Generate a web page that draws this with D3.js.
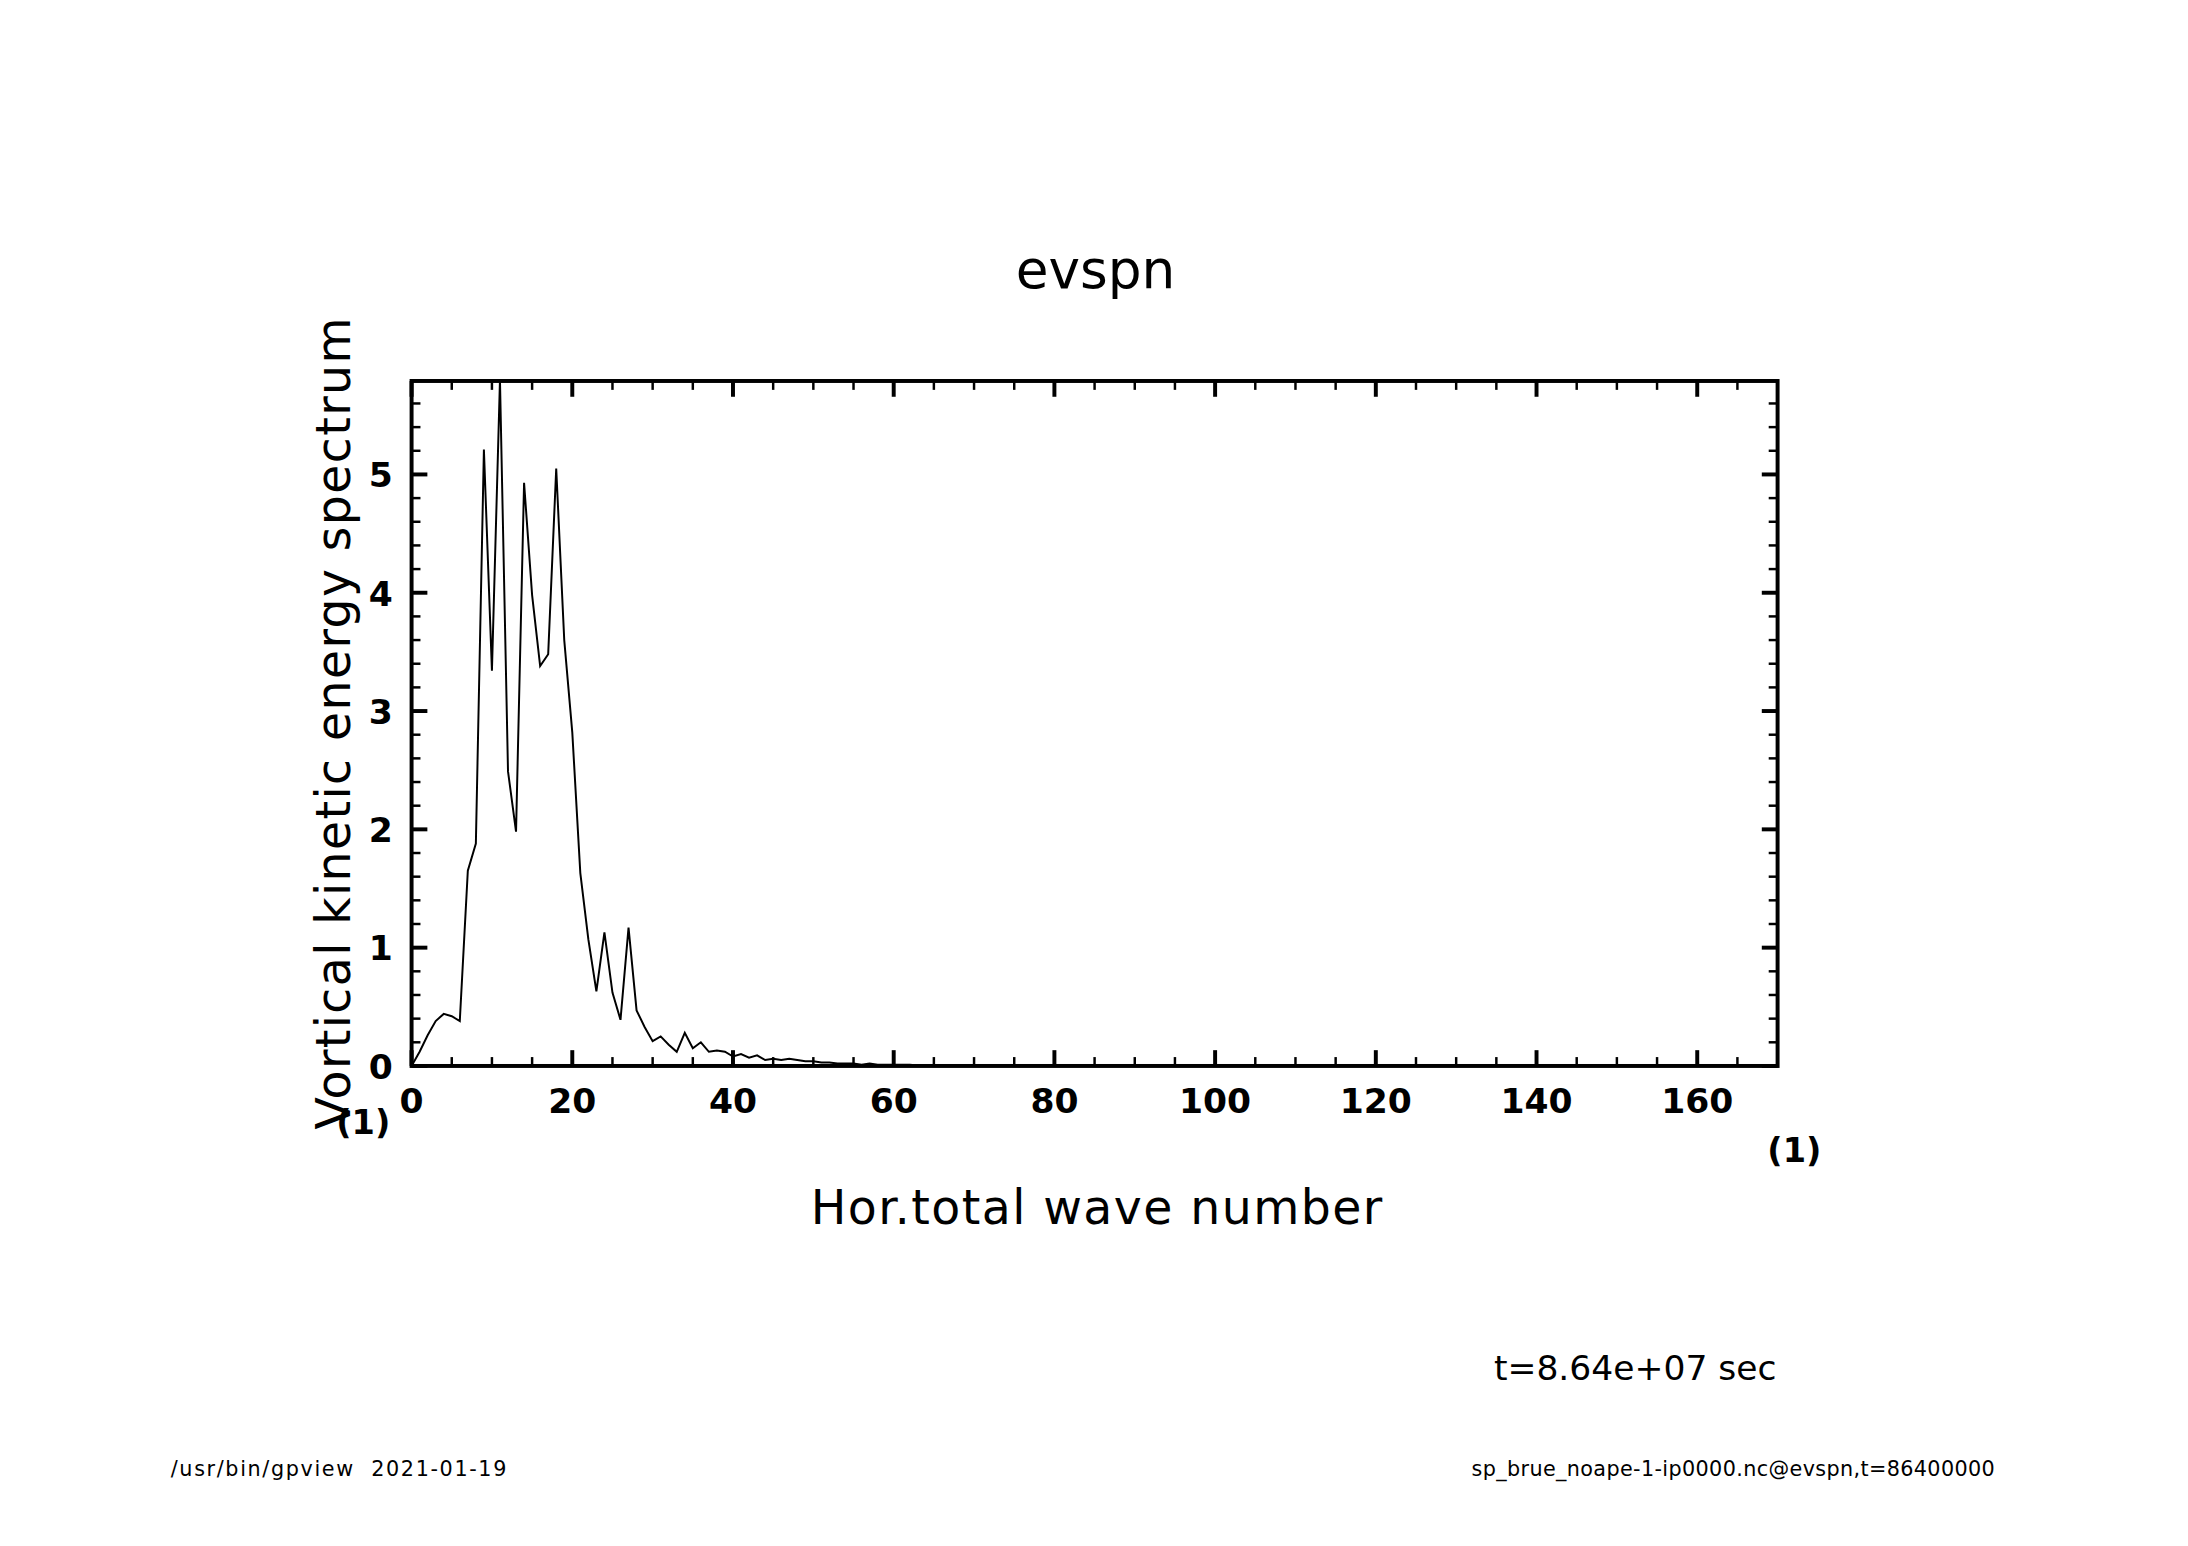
<!DOCTYPE html>
<html><head><meta charset="utf-8">
<script src="https://cdn.jsdelivr.net/npm/d3@7"></script>
<style>body{margin:0;background:#fff}text{font-family:"DejaVu Sans",sans-serif;fill:#000}</style>
</head><body><svg id="chart"></svg>
<script>
// Spectrum values by wave number 0..70
const waveNumbers = d3.range(0, 71);
const energy = [0,0.12,0.26,0.38,0.44,0.42,0.38,1.65,1.88,5.21,3.34,5.8,2.49,1.98,4.93,3.98,3.38,3.48,5.05,3.6,
  2.82,1.63,1.07,0.63,1.13,0.62,0.39,1.17,0.47,0.33,0.21,0.25,0.18,0.12,0.28,0.15,0.2,0.12,0.13,0.12,
  0.08,0.1,0.07,0.09,0.05,0.06,0.05,0.06,0.05,0.04,0.04,0.03,0.03,0.02,0.02,0.02,0.01,0.02,0.01,0.01,
  0.01,0.01,0.01,0.005,0.005,0.005,0,0,0,0,0];
const xTicks = [0,20,40,60,80,100,120,140,160];
const yTicks = [0,1,2,3,4,5];

const width = 2188, height = 1546;
const pLeft = 417, pRight = 1801, pTop = 386, pBottom = 1080;
const root = d3.select("#chart").attr("width", width).attr("height", height);
const svg = root.append("g").attr("transform", "scale(0.987)");

const x = d3.scaleLinear().domain([0, 170]).range([pLeft, pRight]);
const y = d3.scaleLinear().domain([0, 5.79]).range([pBottom, pTop]);

svg.append("clipPath").attr("id", "c").append("rect")
  .attr("x", pLeft).attr("y", pTop).attr("width", pRight - pLeft).attr("height", pBottom - pTop);

svg.append("path")
  .datum(waveNumbers.map((w, i) => [w, energy[i]]))
  .attr("clip-path", "url(#c)")
  .attr("fill", "none").attr("stroke", "#000").attr("stroke-width", 2)
  .attr("d", d3.line().x(d => x(d[0])).y(d => y(d[1])));

// Frame
svg.append("rect").attr("x", pLeft).attr("y", pTop).attr("width", pRight - pLeft).attr("height", pBottom - pTop)
  .attr("fill", "none").attr("stroke", "#000").attr("stroke-width", 4);

// Inward ticks on all sides
const minorX = d3.range(0, 171, 5), minorY = d3.range(0, 5.8, 0.2);
const tk = svg.append("g").attr("stroke", "#000");
minorX.forEach(v => {
  const major = v % 20 === 0, len = major ? 16 : 9, sw = major ? 4 : 2.5;
  tk.append("line").attr("x1", x(v)).attr("x2", x(v)).attr("y1", pBottom).attr("y2", pBottom - len).attr("stroke-width", sw);
  tk.append("line").attr("x1", x(v)).attr("x2", x(v)).attr("y1", pTop).attr("y2", pTop + len).attr("stroke-width", sw);
});
minorY.forEach(v => {
  const major = Math.abs(v - Math.round(v)) < 1e-6, len = major ? 16 : 9, sw = major ? 4 : 2.5;
  tk.append("line").attr("y1", y(v)).attr("y2", y(v)).attr("x1", pLeft).attr("x2", pLeft + len).attr("stroke-width", sw);
  tk.append("line").attr("y1", y(v)).attr("y2", y(v)).attr("x1", pRight).attr("x2", pRight - len).attr("stroke-width", sw);
});

svg.selectAll(".xl").data(xTicks).enter().append("text")
  .attr("x", d => x(d)).attr("y", 1128).attr("text-anchor", "middle")
  .attr("font-size", 35).attr("font-weight", 600).text(d => d);
svg.selectAll(".yl").data(yTicks).enter().append("text")
  .attr("x", 398).attr("y", d => y(d) + 13).attr("text-anchor", "end")
  .attr("font-size", 35).attr("font-weight", 600).text(d => d);

svg.append("text").attr("x", 368).attr("y", 1149).attr("text-anchor", "middle")
  .attr("font-size", 34).attr("font-weight", 600).text("(1)");
svg.append("text").attr("x", 1818).attr("y", 1177).attr("text-anchor", "middle")
  .attr("font-size", 34).attr("font-weight", 600).text("(1)");

svg.append("text").attr("x", 1110).attr("y", 292).attr("text-anchor", "middle")
  .attr("font-size", 54).text("evspn");
svg.append("text").attr("x", 1111).attr("y", 1240).attr("text-anchor", "middle")
  .attr("font-size", 48).attr("textLength", 579).text("Hor.total wave number");
svg.append("text").attr("transform", "rotate(-90)").attr("x", -733).attr("y", 355)
  .attr("text-anchor", "middle").attr("font-size", 48).attr("textLength", 823).text("Vortical kinetic energy spectrum");

svg.append("text").attr("x", 1800).attr("y", 1398).attr("text-anchor", "end")
  .attr("font-size", 35).text("t=8.64e+07 sec");
svg.append("text").attr("x", 173).attr("y", 1495).attr("font-size", 21)
  .attr("textLength", 340).attr("xml:space", "preserve").text("/usr/bin/gpview  2021-01-19");
svg.append("text").attr("x", 2021).attr("y", 1495).attr("text-anchor", "end")
  .attr("font-size", 21).attr("textLength", 530).text("sp_brue_noape-1-ip0000.nc@evspn,t=86400000");
</script></body></html>
